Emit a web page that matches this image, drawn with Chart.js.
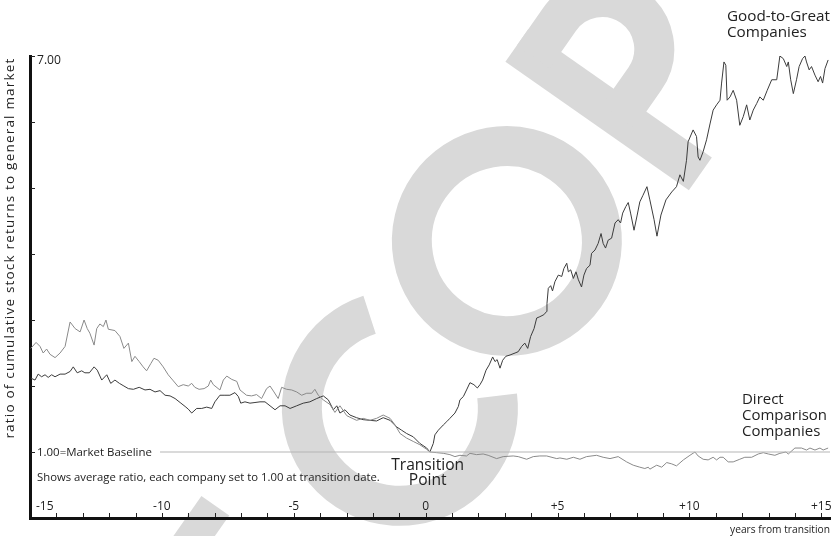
<!DOCTYPE html>
<html>
<head>
<meta charset="utf-8">
<script src="https://cdn.jsdelivr.net/npm/chart.js@4.4.1/dist/chart.umd.min.js"></script>
<style>
  html, body { margin: 0; padding: 0; background: #fff; }
  #wrap { width: 837px; height: 536px; position: relative; }
</style>
</head>
<body>
<div id="wrap"><canvas id="chart"></canvas></div>
<script>
// [years from transition, ratio to market]
const goodToGreat = [
  [-14.97, 2.12], [-14.81, 2.09], [-14.69, 2.18], [-14.56, 2.14], [-14.43, 2.17], [-14.31, 2.13],
  [-14.18, 2.17], [-14.05, 2.14], [-13.86, 2.18], [-13.67, 2.18], [-13.48, 2.22], [-13.36, 2.29],
  [-13.21, 2.20], [-13.04, 2.23], [-12.92, 2.20], [-12.75, 2.20], [-12.57, 2.29], [-12.45, 2.24],
  [-12.28, 2.09], [-12.09, 2.17], [-11.94, 2.04], [-11.78, 2.09], [-11.61, 2.04], [-11.44, 2.00],
  [-11.27, 1.96], [-11.08, 1.95], [-10.86, 1.98], [-10.64, 1.94], [-10.45, 1.95], [-10.26, 1.91],
  [-10.07, 1.93], [-9.88, 1.86], [-9.69, 1.85], [-9.50, 1.81], [-9.31, 1.75], [-9.12, 1.69],
  [-9.00, 1.65], [-8.87, 1.59], [-8.68, 1.66], [-8.49, 1.66], [-8.30, 1.68], [-8.11, 1.66],
  [-7.99, 1.76], [-7.80, 1.86], [-7.61, 1.86], [-7.42, 1.86], [-7.23, 1.90], [-7.10, 1.84],
  [-7.01, 1.74], [-6.85, 1.76], [-6.66, 1.74], [-6.47, 1.75], [-6.28, 1.76], [-6.09, 1.76],
  [-5.90, 1.70], [-5.71, 1.64], [-5.52, 1.70], [-5.33, 1.70], [-5.14, 1.66], [-4.89, 1.70],
  [-4.64, 1.74], [-4.39, 1.76], [-4.13, 1.81], [-3.88, 1.85], [-3.69, 1.79], [-3.50, 1.64],
  [-3.37, 1.70], [-3.25, 1.59], [-3.06, 1.64], [-2.87, 1.56], [-2.62, 1.52], [-2.37, 1.49],
  [-2.11, 1.48], [-1.86, 1.47], [-1.61, 1.52], [-1.35, 1.48], [-1.10, 1.38], [-0.91, 1.33],
  [-0.72, 1.28], [-0.47, 1.23], [-0.22, 1.13], [0.04, 1.06], [0.16, 1.00],
  [0.29, 1.13], [0.35, 1.26], [0.48, 1.33], [0.67, 1.41], [0.80, 1.46], [0.92, 1.51],
  [1.11, 1.59], [1.24, 1.69], [1.30, 1.79], [1.43, 1.84], [1.55, 1.94], [1.68, 2.05],
  [1.83, 2.02], [1.96, 1.97], [2.06, 2.02], [2.16, 2.09], [2.29, 2.24], [2.41, 2.32],
  [2.54, 2.44], [2.63, 2.37], [2.71, 2.40], [2.82, 2.27], [2.92, 2.39], [3.04, 2.45],
  [3.20, 2.47], [3.39, 2.50], [3.51, 2.52], [3.64, 2.60], [3.76, 2.65], [3.87, 2.57],
  [3.98, 2.75], [4.11, 2.87], [4.21, 3.03], [4.33, 3.05], [4.48, 3.08], [4.59, 3.13],
  [4.60, 3.25], [4.65, 3.48], [4.74, 3.52], [4.81, 3.44], [4.90, 3.58], [5.03, 3.68],
  [5.16, 3.66], [5.24, 3.78], [5.35, 3.86], [5.41, 3.73], [5.50, 3.76], [5.60, 3.63],
  [5.70, 3.73], [5.79, 3.61], [5.91, 3.50], [6.00, 3.68], [6.10, 3.78], [6.23, 3.83],
  [6.29, 4.01], [6.42, 4.06], [6.54, 4.16], [6.65, 4.31], [6.73, 4.16], [6.82, 4.09],
  [6.92, 4.21], [7.05, 4.24], [7.18, 4.47], [7.30, 4.52], [7.39, 4.47], [7.47, 4.62],
  [7.59, 4.72], [7.68, 4.78], [7.77, 4.62], [7.90, 4.36], [8.02, 4.59], [8.12, 4.79],
  [8.24, 4.89], [8.39, 5.02], [8.50, 4.82], [8.66, 4.52], [8.77, 4.27], [8.92, 4.59],
  [9.11, 4.82], [9.33, 4.94], [9.51, 5.02], [9.64, 5.20], [9.77, 5.10], [9.89, 5.42],
  [9.95, 5.70], [10.14, 5.88], [10.27, 5.78], [10.33, 5.47], [10.40, 5.42], [10.52, 5.55],
  [10.65, 5.73], [10.78, 5.97], [10.90, 6.18], [11.03, 6.26], [11.16, 6.33], [11.22, 6.59],
  [11.31, 6.91], [11.38, 6.86], [11.43, 6.33], [11.54, 6.38], [11.66, 6.48], [11.79, 6.33],
  [11.91, 5.95], [12.04, 6.08], [12.17, 6.26], [12.29, 6.03], [12.42, 6.18], [12.55, 6.28],
  [12.67, 6.38], [12.80, 6.33], [12.95, 6.48], [13.12, 6.64], [13.31, 6.64], [13.43, 7.00],
  [13.56, 6.96], [13.69, 6.84], [13.75, 6.91], [13.84, 6.64], [13.94, 6.43], [14.06, 6.64],
  [14.16, 6.84], [14.29, 6.96], [14.38, 7.00], [14.44, 6.91], [14.54, 6.79], [14.63, 6.84],
  [14.76, 6.71], [14.88, 6.61], [14.97, 6.69], [15.05, 6.59], [15.14, 6.81], [15.26, 6.94]
];

const comparison = [
  [-14.97, 2.57], [-14.77, 2.66], [-14.62, 2.60], [-14.50, 2.50], [-14.37, 2.56], [-14.24, 2.48],
  [-14.05, 2.43], [-13.86, 2.50], [-13.67, 2.60], [-13.48, 2.97], [-13.29, 2.87], [-13.10, 2.82],
  [-12.95, 3.00], [-12.83, 2.87], [-12.73, 2.80], [-12.57, 2.62], [-12.47, 2.87], [-12.35, 2.94],
  [-12.22, 2.90], [-12.12, 3.00], [-12.03, 2.86], [-11.78, 2.84], [-11.59, 2.75], [-11.44, 2.57],
  [-11.27, 2.65], [-11.14, 2.37], [-11.02, 2.45], [-10.86, 2.37], [-10.71, 2.29], [-10.58, 2.23],
  [-10.42, 2.34], [-10.30, 2.42], [-10.14, 2.39], [-9.95, 2.29], [-9.76, 2.17], [-9.59, 2.09],
  [-9.38, 1.99], [-9.19, 2.02], [-9.00, 2.00], [-8.87, 2.04], [-8.75, 1.98], [-8.59, 1.95],
  [-8.40, 1.96], [-8.24, 2.00], [-8.15, 2.09], [-8.05, 2.02], [-7.80, 1.94], [-7.67, 2.09],
  [-7.54, 2.15], [-7.35, 2.10], [-7.16, 2.07], [-7.04, 1.94], [-6.79, 1.86], [-6.60, 1.85],
  [-6.41, 1.87], [-6.22, 1.81], [-6.03, 1.96], [-5.90, 2.00], [-5.75, 1.91], [-5.59, 1.81],
  [-5.46, 1.98], [-5.27, 1.95], [-5.08, 1.94], [-4.89, 1.91], [-4.70, 1.86], [-4.51, 1.89],
  [-4.32, 1.89], [-4.20, 1.95], [-4.07, 1.86], [-3.88, 1.79], [-3.63, 1.72], [-3.44, 1.60],
  [-3.25, 1.70], [-2.99, 1.55], [-2.62, 1.48], [-2.37, 1.51], [-2.11, 1.48], [-1.86, 1.51],
  [-1.61, 1.56], [-1.35, 1.51], [-1.16, 1.41], [-0.97, 1.28], [-0.72, 1.21], [-0.47, 1.16],
  [-0.22, 1.11], [0.04, 1.04], [0.16, 1.00],
  [0.42, 0.99], [0.67, 0.98], [0.92, 0.96], [1.11, 0.93], [1.30, 0.95], [1.55, 0.94],
  [1.68, 0.98], [1.93, 0.96], [2.18, 0.97], [2.37, 0.95], [2.69, 0.90], [2.94, 0.93],
  [3.32, 0.94], [3.51, 0.93], [3.83, 0.89], [4.08, 0.93], [4.33, 0.94], [4.59, 0.94],
  [4.97, 0.90], [5.09, 0.91], [5.35, 0.89], [5.60, 0.92], [5.85, 0.89], [6.10, 0.93],
  [6.48, 0.95], [6.73, 0.92], [6.99, 0.90], [7.30, 0.93], [7.62, 0.85], [7.87, 0.80],
  [8.12, 0.77], [8.31, 0.75], [8.44, 0.77], [8.50, 0.74], [8.76, 0.80], [8.95, 0.77],
  [9.14, 0.84], [9.33, 0.82], [9.51, 0.79], [9.77, 0.88], [10.02, 0.95], [10.21, 1.00],
  [10.33, 0.94], [10.52, 0.89], [10.71, 0.88], [10.90, 0.92], [11.03, 0.88], [11.16, 0.92],
  [11.28, 0.92], [11.47, 0.85], [11.66, 0.85], [11.91, 0.89], [12.10, 0.92], [12.36, 0.92],
  [12.61, 0.97], [12.80, 0.99], [12.99, 0.97], [13.24, 0.95], [13.43, 0.98], [13.66, 1.00],
  [13.75, 0.97], [14.00, 1.06], [14.25, 1.06], [14.44, 1.03], [14.57, 1.06], [14.76, 1.03],
  [14.95, 1.06], [15.07, 1.03], [15.26, 1.06]
];

const baseline = [[-10.07, 1], [15.33, 1]];

const xTickValues = [-15, -10, -5, 0, 5, 10, 15];
const xTickLabels = ['-15', '-10', '-5', '0', '+5', '+10', '+15'];
const yTickValues = [1, 2, 3, 4, 5, 6, 7];

const FONT = '"Open Sans", sans-serif';

function toPoints(arr) {
    return arr.map(p => ({ x: p[0], y: p[1] }));
}

// font size that makes `text` about `width` px wide
function fitFont(ctx, text, width) {
    ctx.font = '20px ' + FONT;
    const size = 20 * width / ctx.measureText(text).width;
    return size.toFixed(2) + 'px ' + FONT;
}

const decor = {
    id: 'decor',
    beforeDraw(chart) {
        // grey "NOT COPY" watermark, drawn as strokes in a rotated frame
        const ctx = chart.ctx;
        const rad = Math.PI / 180;
        ctx.save();
        ctx.fillStyle = '#d9d9d9';
        ctx.strokeStyle = '#d9d9d9';
        ctx.lineWidth = 40;
        ctx.translate(420, 400);
        ctx.rotate(-55 * rad);

        ctx.fillRect(-440, -124, 236, 34);
        ctx.beginPath();
        ctx.arc(-18, -12, 98, -53 * rad, 48 * rad, true);
        ctx.stroke();
        ctx.beginPath();
        ctx.arc(180, -20, 95, 0, 2 * Math.PI);
        ctx.stroke();
        ctx.fillRect(326, -124, 40, 224);
        ctx.beginPath();
        ctx.moveTo(346, -104);
        ctx.lineTo(392, -104);
        ctx.arc(392, -52, 52, -Math.PI / 2, Math.PI / 2, false);
        ctx.lineTo(346, 0);
        ctx.stroke();
        ctx.restore();
    },
    afterDraw(chart) {
        const ctx = chart.ctx;
        const xs = chart.scales.x;
        const ys = chart.scales.y;
        const left = xs.left;
        const bottom = ys.bottom;

        ctx.save();
        // ticks point into the plot
        ctx.strokeStyle = '#222';
        ctx.lineWidth = 1;
        ctx.beginPath();
        for (let t = -14; t <= 15; t++) {
            const px = Math.round(xs.getPixelForValue(t)) + 0.5;
            ctx.moveTo(px, bottom - 1);
            ctx.lineTo(px, bottom - 5);
        }
        yTickValues.forEach(v => {
            const py = Math.round(ys.getPixelForValue(v)) + 0.5;
            ctx.moveTo(left + 1, py);
            ctx.lineTo(left + 5, py);
        });
        ctx.stroke();

        ctx.fillStyle = '#222';
        ctx.textBaseline = 'middle';

        ctx.font = '12px ' + FONT;
        xTickValues.forEach((v, i) => {
            if (i === 0) {
                ctx.textAlign = 'left';
                ctx.fillText(xTickLabels[i], left + 6, bottom - 11);
            } else {
                ctx.textAlign = 'center';
                ctx.fillText(xTickLabels[i], xs.getPixelForValue(v), bottom - 11);
            }
        });

        ctx.textAlign = 'left';
        ctx.font = fitFont(ctx, '7.00', 24);
        ctx.fillText('7.00', left + 7, ys.getPixelForValue(7) + 5);
        ctx.font = fitFont(ctx, '1.00=Market Baseline', 115);
        ctx.fillText('1.00=Market Baseline', left + 7, ys.getPixelForValue(1) + 1);
        const note = 'Shows average ratio, each company set to 1.00 at transition date.';
        ctx.font = fitFont(ctx, note, 343);
        ctx.fillText(note, left + 7, 478);

        ctx.font = fitFont(ctx, 'years from transition', 100);
        ctx.textAlign = 'right';
        ctx.fillText('years from transition', xs.right, 530);

        // y axis title, slightly spaced out
        const yTitle = 'ratio of cumulative stock returns to general market';
        ctx.save();
        ctx.translate(10, 248);
        ctx.rotate(-Math.PI / 2);
        ctx.textAlign = 'center';
        ctx.font = '13.5px ' + FONT;
        const natural = ctx.measureText(yTitle).width;
        ctx.letterSpacing = Math.max(0, (380 - natural) / (yTitle.length - 1)).toFixed(2) + 'px';
        ctx.fillText(yTitle, 0, 0);
        ctx.restore();

        // labels
        ctx.font = fitFont(ctx, 'Transition', 73);
        ctx.textAlign = 'center';
        const tx = xs.getPixelForValue(0) + 2;
        ctx.fillText('Transition', tx, 466);
        ctx.fillText('Point', tx, 481);

        ctx.textAlign = 'left';
        ctx.font = fitFont(ctx, 'Good-to-Great', 103);
        ctx.fillText('Good-to-Great', 727, 17);
        ctx.fillText('Companies', 727, 33);
        ctx.font = fitFont(ctx, 'Comparison', 85);
        ctx.fillText('Direct', 742, 400);
        ctx.fillText('Comparison', 742, 416);
        ctx.fillText('Companies', 742, 432);
        ctx.restore();
    }
};

new Chart(document.getElementById('chart'), {
    type: 'scatter',
    data: {
        datasets: [
            {
                label: 'Market Baseline',
                data: toPoints(baseline),
                showLine: true,
                borderColor: '#b5b5b5',
                borderWidth: 1,
                pointRadius: 0
            },
            {
                label: 'Direct Comparison Companies',
                data: toPoints(comparison),
                showLine: true,
                borderColor: '#8a8a8a',
                borderWidth: 1,
                pointRadius: 0
            },
            {
                label: 'Good-to-Great Companies',
                data: toPoints(goodToGreat),
                showLine: true,
                borderColor: '#3c3c3c',
                borderWidth: 1,
                pointRadius: 0
            }
        ]
    },
    options: {
        responsive: true,
        maintainAspectRatio: false,
        animation: false,
        events: [],
        layout: { padding: { left: 30, right: 7, top: 56, bottom: 18 } },
        plugins: { legend: { display: false }, tooltip: { enabled: false } },
        scales: {
            x: {
                type: 'linear',
                min: -15, max: 15.33,
                ticks: { display: false },
                grid: { display: false, drawTicks: false },
                border: { display: true, color: '#111', width: 3 }
            },
            y: {
                type: 'linear',
                min: 0, max: 7,
                ticks: { display: false },
                grid: { display: false, drawTicks: false },
                border: { display: true, color: '#111', width: 3 }
            }
        }
    },
    plugins: [decor]
});
</script>
</body>
</html>
